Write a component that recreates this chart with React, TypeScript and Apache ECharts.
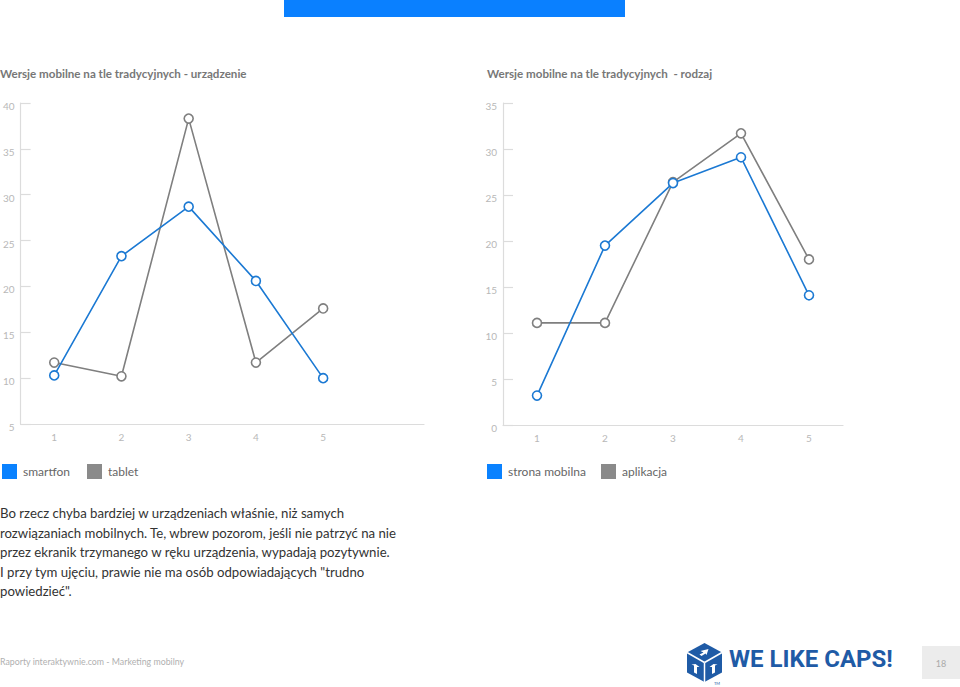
import React, { useEffect, useRef } from "react";
import * as echarts from "echarts";

// ---- data ----
const leftCategories = ["1", "2", "3", "4", "5", ""];
const smartfon = [10.3, 23.3, 28.7, 20.6, 10.0];
const tablet = [11.7, 10.2, 38.3, 11.7, 17.6];

const rightCategories = ["1", "2", "3", "4", "5"];
const stronaMobilna = [3.2, 19.5, 26.3, 29.1, 14.1];
const aplikacja = [11.1, 11.1, 26.4, 31.7, 18.0];

const leftTitle = "Wersje mobilne na tle tradycyjnych - urządzenie";
const rightTitle = "Wersje mobilne na tle tradycyjnych  - rodzaj";

const paragraph = [
  "Bo rzecz chyba bardziej w urządzeniach właśnie, niż samych",
  "rozwiązaniach mobilnych. Te, wbrew pozorom, jeśli nie patrzyć na nie",
  "przez ekranik trzymanego w ręku urządzenia, wypadają pozytywnie.",
  "I przy tym ujęciu, prawie nie ma osób odpowiadających \"trudno",
  "powiedzieć\".",
];

const BLUE_LINE = "#1b79d3";
const GRAY_LINE = "#7f7f7f";
const BLUE_LEGEND = "#0a82ff";
const GRAY_LEGEND = "#8a8a8a";
const AXIS = "#dcdcdc";
const LABEL = "#b8b8b8";
const FONT = "Lato, 'Open Sans', sans-serif";
const LOGO = "#1f5ba6";

function lineSeries(name: string, data: number[], color: string, idx: number) {
  return {
    name,
    type: "line",
    xAxisIndex: idx,
    yAxisIndex: idx,
    data,
    symbol: "circle",
    symbolSize: 9,
    lineStyle: { color, width: 1.6 },
    itemStyle: { color: "#ffffff", borderColor: color, borderWidth: 1.6 },
    z: color === BLUE_LINE ? 3 : 2,
  };
}

function xAxis(idx: number, data: string[]) {
  return {
    type: "category",
    gridIndex: idx,
    data,
    boundaryGap: true,
    axisLine: { lineStyle: { color: AXIS, width: 1.2 } },
    axisTick: { inside: true, length: 8, lineStyle: { color: AXIS, width: 1.2 } },
    axisLabel: { color: LABEL, fontSize: 10, fontFamily: FONT, margin: 8 },
    splitLine: { show: false },
  };
}

function yAxis(idx: number, min: number, max: number) {
  return {
    type: "value",
    gridIndex: idx,
    min,
    max,
    interval: 5,
    axisLine: { show: true, lineStyle: { color: AXIS, width: 1.2 } },
    axisTick: { show: true, inside: true, length: 10, lineStyle: { color: AXIS, width: 1.2 } },
    axisLabel: {
      color: LABEL,
      fontSize: 10,
      fontFamily: FONT,
      margin: 6,
      verticalAlign: "top",
      lineHeight: 6,
    },
    splitLine: { show: false },
  };
}

function legendItem(x: number, y: number, color: string, label: string) {
  return [
    { type: "rect", shape: { x, y, width: 15, height: 15 }, style: { fill: color } },
    {
      type: "text",
      x: x + 21,
      y: y + 7.5,
      style: { text: label, fill: "#666", fontSize: 12, fontFamily: FONT, verticalAlign: "middle", align: "left" },
    },
  ];
}

export default function App() {
  const ref = useRef<HTMLDivElement>(null);
  useEffect(() => {
    const chart = echarts.init(ref.current!, null, { renderer: "svg" });
    const cx = 704.5;
    const cy = 662.5;
    const hex = [
      [cx, 643],
      [cx + 17.5, 652.5],
      [cx + 17.5, 672.5],
      [cx, 682],
      [cx - 17.5, 672.5],
      [cx - 17.5, 652.5],
    ];
    const option: any = {
      animation: false,
      backgroundColor: "#ffffff",
      grid: [
        { left: 17, top: 103, width: 407, height: 321, containLabel: false },
        { left: 503, top: 103, width: 340, height: 322, containLabel: false },
      ],
      xAxis: [xAxis(0, leftCategories), xAxis(1, rightCategories)],
      yAxis: [yAxis(0, 5, 40), yAxis(1, 0, 35)],
      series: [
        lineSeries("tablet", tablet, GRAY_LINE, 0),
        lineSeries("smartfon", smartfon, BLUE_LINE, 0),
        lineSeries("aplikacja", aplikacja, GRAY_LINE, 1),
        lineSeries("strona mobilna", stronaMobilna, BLUE_LINE, 1),
      ],
      graphic: [
        { type: "rect", shape: { x: 284, y: 0, width: 341, height: 17 }, style: { fill: "#0a80ff" } },
        {
          type: "text",
          x: 0,
          y: 73,
          style: { text: leftTitle, fill: "#777", fontSize: 11.6, fontWeight: "bold", fontFamily: FONT, verticalAlign: "middle" },
        },
        {
          type: "text",
          x: 487,
          y: 73,
          style: { text: rightTitle, fill: "#777", fontSize: 11.6, fontWeight: "bold", fontFamily: FONT, verticalAlign: "middle" },
        },
        ...legendItem(2, 464, BLUE_LEGEND, "smartfon"),
        ...legendItem(87, 464, GRAY_LEGEND, "tablet"),
        ...legendItem(487, 464, BLUE_LEGEND, "strona mobilna"),
        ...legendItem(601, 464, GRAY_LEGEND, "aplikacja"),
        ...paragraph.map((t, i) => ({
          type: "text",
          x: 0,
          y: 513 + i * 19.5,
          style: { text: t, fill: "#333", fontSize: 13.2, fontFamily: FONT, verticalAlign: "middle" },
        })),
        {
          type: "text",
          x: 0,
          y: 661,
          style: {
            text: "Raporty interaktywnie.com - Marketing mobilny",
            fill: "#b0b0b0",
            fontSize: 8.8,
            fontFamily: FONT,
            verticalAlign: "middle",
          },
        },
        // logo cube
        { type: "polygon", shape: { points: hex }, style: { fill: LOGO } },
        { type: "line", shape: { x1: cx, y1: cy, x2: cx - 17.5, y2: 652.5 }, style: { stroke: "#fff", lineWidth: 1.5 } },
        { type: "line", shape: { x1: cx, y1: cy, x2: cx + 17.5, y2: 652.5 }, style: { stroke: "#fff", lineWidth: 1.5 } },
        { type: "line", shape: { x1: cx, y1: cy, x2: cx, y2: 682 }, style: { stroke: "#fff", lineWidth: 1.5 } },
        {
          type: "polygon",
          shape: { points: [[cx - 4, 651], [cx + 4, 649], [cx + 2, 655], [cx + 1, 653.5], [cx - 3, 656], [cx - 5, 654.5], [cx - 1, 652.5]] },
          style: { fill: "#fff" },
        },
        {
          type: "polygon",
          shape: { points: [[cx - 9, 664], [cx - 5, 667], [cx - 7.5, 667], [cx - 7.5, 674], [cx - 10.5, 672.5], [cx - 10.5, 665.5], [cx - 13, 664.5]] },
          style: { fill: "#fff" },
        },
        {
          type: "polygon",
          shape: { points: [[cx + 9, 664], [cx + 13, 664.5], [cx + 10.5, 665.5], [cx + 10.5, 672.5], [cx + 7.5, 674], [cx + 7.5, 667], [cx + 5, 667]] },
          style: { fill: "#fff" },
        },
        {
          type: "text",
          x: 714,
          y: 683,
          style: { text: "TM", fill: LOGO, fontSize: 4, fontFamily: FONT, verticalAlign: "middle" },
        },
        {
          type: "text",
          x: 729,
          y: 659,
          style: {
            text: "WE LIKE CAPS!",
            fill: LOGO,
            fontSize: 24,
            fontWeight: "bold",
            fontFamily: "Roboto, sans-serif",
            verticalAlign: "middle",
          },
        },
        { type: "rect", shape: { x: 922, y: 646, width: 38, height: 33 }, style: { fill: "#ececec" } },
        {
          type: "text",
          x: 941,
          y: 663,
          style: { text: "18", fill: "#aaa", fontSize: 9, fontFamily: FONT, align: "center", verticalAlign: "middle" },
        },
      ],
    };
    chart.setOption(option);
    return () => chart.dispose();
  }, []);
  return (
    <div
      ref={ref}
      style={{ position: "fixed", left: 0, top: 0, width: 960, height: 687, background: "#fff" }}
    />
  );
}
